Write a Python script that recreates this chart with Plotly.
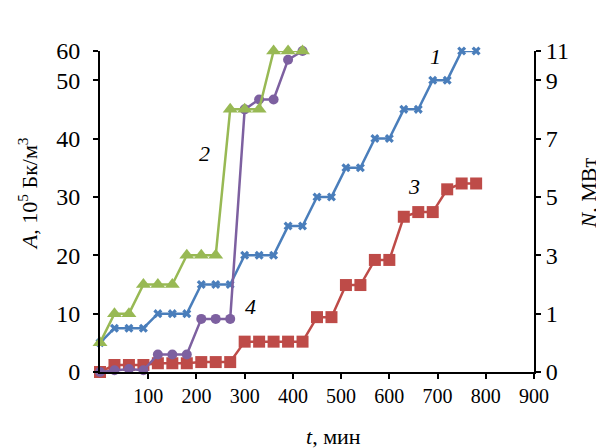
import plotly.graph_objects as go

t = [0, 30, 60, 90, 120, 150, 180, 210, 240, 270, 300, 330, 360, 390, 420,
     450, 480, 510, 540, 570, 600, 630, 660, 690, 720, 750, 780]

s1 = [5, 7.5, 7.5, 7.5, 10, 10, 10, 15, 15, 15, 20, 20, 20, 25, 25,
      30, 30, 35, 35, 40, 40, 45, 45, 50, 50, 55, 55]
s3 = [0, 1.2, 1.2, 1.2, 1.5, 1.5, 1.5, 1.7, 1.7, 1.7, 5.2, 5.2, 5.2, 5.2, 5.2,
      9.4, 9.4, 14.9, 14.9, 19.2, 19.2, 26.6, 27.4, 27.4, 31.3, 32.3, 32.3]
t_short = t[:15]
s2 = [5, 10, 10, 15, 15, 15, 20, 20, 20, 45, 45, 45, 55, 55, 55]
s4 = [0, 0.3, 0.5, 0.3, 3, 3, 3, 9.1, 9.1, 9.1, 45, 46.7, 46.7, 53.5, 55]

left_tickvals = [0, 10, 20, 30, 40, 50, 55]
left_ticktext = ["0", "10", "20", "30", "40", "50", "60"]
right_ticktext = ["0", "1", "3", "5", "7", "9", "11"]
x_tickvals = [100, 200, 300, 400, 500, 600, 700, 800, 900]

BLUE = "#4A7EBB"
RED = "#BE4B48"
GREEN = "#98B954"
PURPLE = "#7D60A0"
FONT = "'Liberation Serif', 'Times New Roman', Times, serif"

fig = go.Figure()
fig.add_trace(go.Scatter(x=t, y=s3, mode="lines+markers", cliponaxis=False,
                         line=dict(color=RED, width=2.5),
                         marker=dict(symbol="square", size=12, color=RED)))
fig.add_trace(go.Scatter(x=t, y=s1, mode="lines+markers", cliponaxis=False,
                         line=dict(color=BLUE, width=2.5),
                         marker=dict(symbol="x", size=8, color=BLUE)))
fig.add_trace(go.Scatter(x=t_short, y=s4, mode="lines+markers", cliponaxis=False,
                         line=dict(color=PURPLE, width=2.5),
                         marker=dict(symbol="circle", size=10, color=PURPLE)))
fig.add_trace(go.Scatter(x=t_short, y=s2, mode="lines+markers", cliponaxis=False,
                         yaxis="y2",
                         line=dict(color=GREEN, width=2.5),
                         marker=dict(symbol="triangle-up", size=13, color=GREEN)))

axis_common = dict(showgrid=False, zeroline=False, showline=True, linecolor="black",
                   linewidth=2, ticks="outside", ticklen=5, tickwidth=1.5,
                   tickcolor="black")

fig.update_layout(
    width=604, height=448,
    margin=dict(l=92, r=78, t=43, b=84),
    paper_bgcolor="white", plot_bgcolor="white",
    showlegend=False,
    font=dict(family=FONT, color="black"),
    xaxis=dict(range=[0, 900], tickvals=x_tickvals, tickfont=dict(size=20),
               **axis_common),
    yaxis=dict(range=[0, 55], tickvals=left_tickvals, ticktext=left_ticktext,
               tickfont=dict(size=24), ticklabelstandoff=8, **axis_common),
    yaxis2=dict(range=[0, 55], tickvals=left_tickvals, ticktext=right_ticktext,
                overlaying="y", side="right", tickfont=dict(size=24),
                **axis_common),
)

ann = dict(showarrow=False, xanchor="center", yanchor="middle",
           font=dict(family=FONT, size=22, color="black"))
fig.add_annotation(text="<i>A</i>, 10<sup>5</sup> Бк/м<sup>3</sup>", textangle=-90,
                   xref="paper", yref="paper", x=-0.166, y=0.557, **ann)
fig.add_annotation(text="<i>N</i>, МВт", textangle=-90,
                   xref="paper", yref="paper", x=1.125, y=0.557, **ann)
fig.add_annotation(text="<i>t</i>, мин", xref="paper", yref="paper",
                   x=0.537, y=-0.2, **ann)

for label, lx, ly in [("1", 695, 54), ("2", 216, 37.5), ("3", 651, 31.8), ("4", 313, 11.3)]:
    fig.add_annotation(text="<i>" + label + "</i>", x=lx, y=ly, xref="x", yref="y", **ann)

fig.write_html("out.html")
